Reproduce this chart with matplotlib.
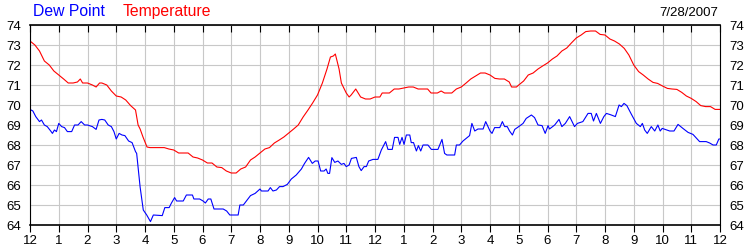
import matplotlib
matplotlib.use('Agg')
import matplotlib.pyplot as plt
import numpy as np

# hours since midnight
temp_hours = [0, 0.17, 0.33, 0.5, 0.67, 0.83, 1.0, 1.17, 1.33, 1.5, 1.65, 1.75, 1.83,
              2.0, 2.17, 2.3, 2.42, 2.5, 2.67, 2.83, 3.0, 3.17, 3.33, 3.5, 3.67, 3.76, 3.83,
              3.93, 4.07, 4.17, 4.33, 4.5, 4.67, 4.83, 5.0, 5.17, 5.33, 5.5, 5.67,
              5.83, 6.0, 6.17, 6.33, 6.5, 6.67, 6.83, 7.0, 7.17, 7.33, 7.5, 7.67,
              7.83, 8.0, 8.17, 8.33, 8.5, 8.67, 8.83, 9.0, 9.17, 9.33, 9.5, 9.67,
              9.83, 10.0, 10.17, 10.33, 10.45, 10.55, 10.62, 10.75, 10.83, 11.0,
              11.1, 11.17, 11.33, 11.5, 11.67, 11.83, 12.0, 12.17, 12.25, 12.5,
              12.67, 12.83, 13.0, 13.17, 13.33, 13.5, 13.67, 13.83, 13.95, 14.17,
              14.3, 14.42, 14.67, 14.83, 15.0, 15.17, 15.33, 15.5, 15.67, 15.83,
              16.0, 16.17, 16.33, 16.5, 16.67, 16.75, 16.92, 17.0, 17.17, 17.33,
              17.5, 17.67, 17.83, 18.0, 18.17, 18.33, 18.5, 18.67, 18.83, 19.0,
              19.17, 19.33, 19.5, 19.67, 19.83, 20.0, 20.17, 20.33, 20.5, 20.67,
              20.83, 21.0, 21.17, 21.33, 21.5, 21.67, 21.83, 22.0, 22.17, 22.33,
              22.5, 22.67, 22.83, 23.0, 23.17, 23.33, 23.5, 23.67, 23.83, 24.0]
temperature = [73.2, 73.0, 72.7, 72.2, 72.0, 71.7, 71.5, 71.3, 71.1, 71.1, 71.15, 71.3, 71.1,
               71.1, 71.0, 70.9, 71.1, 71.1, 71.0, 70.7, 70.45, 70.4, 70.25, 69.97, 69.75, 69.0, 68.8,
               68.4, 67.9, 67.87, 67.87, 67.87, 67.87, 67.8, 67.75, 67.6, 67.6, 67.6, 67.4,
               67.35, 67.25, 67.1, 67.1, 66.9, 66.87, 66.7, 66.6, 66.6, 66.8, 66.9, 67.25,
               67.4, 67.6, 67.8, 67.87, 68.1, 68.25, 68.4, 68.6, 68.8, 69.0, 69.4, 69.75,
               70.1, 70.5, 71.1, 71.8, 72.4, 72.45, 72.55, 71.8, 71.1, 70.6,
               70.4, 70.5, 70.8, 70.4, 70.3, 70.3, 70.4, 70.4, 70.6, 70.6,
               70.8, 70.8, 70.85, 70.9, 70.9, 70.8, 70.8, 70.8, 70.6, 70.6,
               70.7, 70.6, 70.6, 70.8, 70.9, 71.1, 71.3, 71.45, 71.6, 71.6,
               71.5, 71.33, 71.3, 71.3, 71.15, 70.9, 70.9, 71.0, 71.2, 71.5,
               71.6, 71.8, 71.95, 72.1, 72.3, 72.45, 72.7, 72.85, 73.1, 73.35,
               73.5, 73.67, 73.7, 73.7, 73.53, 73.5, 73.3, 73.2, 73.05, 72.83,
               72.5, 72.0, 71.67, 71.5, 71.3, 71.13, 71.08, 70.95, 70.83, 70.8,
               70.78, 70.63, 70.45, 70.33, 70.17, 69.97, 69.92, 69.92, 69.78, 69.78]

dew_hours = [0, 0.1, 0.2, 0.33, 0.4, 0.5, 0.6, 0.72, 0.78, 0.85, 0.92, 1.0, 1.1, 1.2,
             1.3, 1.45, 1.55, 1.67, 1.78, 1.9, 2.0, 2.17, 2.3, 2.4, 2.5, 2.6, 2.72,
             2.83, 2.92, 3.0, 3.1, 3.2, 3.3, 3.43, 3.55, 3.67, 3.71, 3.83, 3.94, 4.06,
             4.19, 4.29, 4.6, 4.69, 4.84, 4.92, 5.03, 5.1, 5.33, 5.44, 5.65, 5.7,
             5.9, 6.02, 6.1, 6.2, 6.29, 6.4, 6.72, 6.84, 6.95, 7.24, 7.3, 7.42,
             7.67, 7.83, 8.0, 8.05, 8.28, 8.36, 8.45, 8.57, 8.68, 8.8, 8.95, 9.09,
             9.26, 9.44, 9.55, 9.69, 9.82, 9.92, 10.02, 10.11, 10.23, 10.3, 10.36,
             10.42, 10.5, 10.6, 10.71, 10.83, 10.92, 11.0, 11.1, 11.18, 11.35,
             11.44, 11.52, 11.62, 11.7, 11.78, 11.93, 12.1, 12.22, 12.37, 12.45,
             12.6, 12.68, 12.8, 12.86, 12.94, 13.01, 13.09, 13.21, 13.26, 13.34,
             13.44, 13.51, 13.59, 13.67, 13.84, 13.96, 14.19, 14.33, 14.42, 14.5,
             14.77, 14.83, 14.94, 15.06, 15.29, 15.37, 15.47, 15.58, 15.76, 15.85,
             16.0, 16.07, 16.16, 16.34, 16.43, 16.51, 16.6, 16.68, 16.78, 16.86,
             17.0, 17.15, 17.26, 17.44, 17.55, 17.67, 17.81, 17.92, 18.02, 18.07,
             18.25, 18.4, 18.5, 18.62, 18.77, 18.94, 19.04, 19.23, 19.41, 19.52,
             19.6, 19.7, 19.84, 19.96, 20.05, 20.22, 20.36, 20.49, 20.57, 20.66,
             20.76, 20.92, 21.09, 21.23, 21.3, 21.38, 21.47, 21.61, 21.73, 21.84,
             21.92, 21.99, 22.25, 22.4, 22.54, 22.71, 22.89, 23.06, 23.29, 23.52,
             23.64, 23.76, 23.87, 23.96, 24.0]
dew_point = [69.78, 69.7, 69.42, 69.17, 69.25, 69.0, 68.92, 68.7, 68.58, 68.75, 68.67, 69.08, 68.92, 68.87,
             68.67, 68.67, 69.0, 69.0, 69.17, 69.0, 69.0, 68.92, 68.78, 69.25, 69.28, 69.25, 69.0,
             68.92, 68.67, 68.3, 68.58, 68.5, 68.47, 68.2, 68.12, 67.67, 67.58, 65.9, 64.75, 64.5,
             64.17, 64.5, 64.47, 64.87, 64.87, 65.1, 65.37, 65.2, 65.2, 65.5, 65.5, 65.3,
             65.3, 65.2, 65.1, 65.3, 65.3, 64.8, 64.8, 64.7, 64.5, 64.5, 65.0, 65.0,
             65.47, 65.58, 65.8, 65.7, 65.7, 65.87, 65.7, 65.75, 65.92, 65.92, 66.03, 66.3,
             66.5, 66.8, 67.08, 67.38, 67.08, 67.2, 67.2, 66.7, 66.7, 66.8, 66.58,
             66.58, 67.37, 67.13, 67.2, 67.03, 67.08, 66.92, 67.0, 67.33, 67.38,
             66.92, 66.72, 66.92, 66.92, 67.2, 67.28, 67.28, 67.75, 68.17, 67.78,
             67.78, 68.38, 68.38, 68.03, 68.38, 68.03, 68.5, 68.5, 68.12, 68.12,
             67.7, 67.97, 67.7, 68.0, 68.0, 67.78, 67.78, 68.28, 67.58, 67.5,
             67.5, 68.0, 68.0, 68.2, 68.47, 69.08, 68.7, 68.8, 68.8, 69.17,
             68.7, 68.58, 68.87, 68.87, 69.17, 68.92, 68.92, 68.7, 68.5, 68.78,
             68.92, 69.08, 69.33, 69.5, 69.37, 69.0, 68.97, 68.58, 68.97, 68.8,
             69.0, 69.28, 68.92, 69.08, 69.42, 68.92, 69.08, 69.17, 69.58, 69.58,
             69.2, 69.58, 69.08, 69.42, 69.58, 69.5, 69.42, 70.0, 69.92, 70.08,
             69.97, 69.53, 69.08, 68.92, 69.08, 68.75, 68.58, 68.92, 68.7, 69.0,
             68.7, 68.83, 68.7, 68.7, 69.03, 68.83, 68.63, 68.53, 68.17, 68.17,
             68.1, 68.0, 68.0, 68.3, 68.3]

hour_ticks = np.arange(0, 25)
hour_labels = ['12', '1', '2', '3', '4', '5', '6', '7', '8', '9', '10', '11',
               '12', '1', '2', '3', '4', '5', '6', '7', '8', '9', '10', '11', '12']
deg_ticks = np.arange(64, 75)
date_text = '7/28/2007'

plt.rcParams['font.family'] = ['Liberation Sans', 'DejaVu Sans']

fig = plt.figure(figsize=(7.5, 2.5), dpi=100)
ax = fig.add_axes([0.04, 0.1, 0.92, 0.8])

ax.plot(temp_hours, temperature, color='#ff0000', lw=0.8)
ax.plot(dew_hours, dew_point, color='#0000ff', lw=0.8)

ax.set_xlim(0, 24)
ax.set_ylim(64, 74)
ax.set_xticks(hour_ticks)
ax.set_xticklabels(hour_labels)
ax.set_yticks(deg_ticks)
ax.grid(True, color='#c8c8c8', lw=0.8)
ax.set_axisbelow(True)

ax.tick_params(axis='x', which='both', bottom=True, top=True, direction='out',
               length=5, width=0.8, labelsize=9.5, pad=2)
ax.tick_params(axis='y', which='both', left=False, right=False,
               labelleft=True, labelright=True, labelsize=9.5, pad=3)
# top ticks point into the plot
for t in ax.xaxis.get_major_ticks():
    t.tick2line.set_marker(3)
for s in ax.spines.values():
    s.set_color('black')
    s.set_linewidth(0.8)
ax.spines['top'].set_linewidth(1.2)
ax.spines['bottom'].set_linewidth(1.2)

fig.text(0.044, 0.925, 'Dew Point', color='#0000ff', fontsize=11.3, va='bottom')
fig.text(0.164, 0.925, 'Temperature', color='#ff0000', fontsize=11.3, va='bottom')
fig.text(0.957, 0.925, date_text, color='#000000', fontsize=9.5, ha='right', va='bottom')

fig.savefig('out.png', dpi=100)
